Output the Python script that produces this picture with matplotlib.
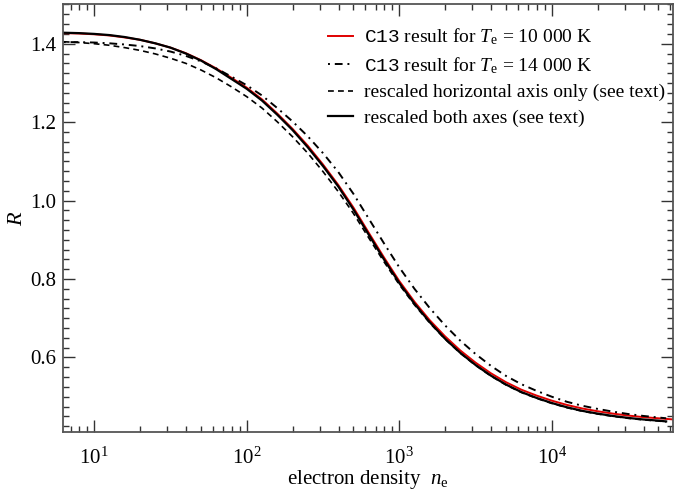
import numpy as np
import matplotlib
matplotlib.use('Agg')
import matplotlib.pyplot as plt
from matplotlib.ticker import LogLocator, MultipleLocator, NullFormatter

plt.rcParams['font.family'] = ['Liberation Serif', 'DejaVu Serif']
plt.rcParams['mathtext.fontset'] = 'custom'
plt.rcParams['mathtext.rm'] = 'Liberation Serif'
plt.rcParams['mathtext.it'] = 'Liberation Serif:italic'
plt.rcParams['mathtext.tt'] = 'Liberation Mono'

# log10 of electron density
log_ne = np.array([0.8, 0.9, 1.0, 1.1, 1.2, 1.3, 1.4, 1.5, 1.6, 1.7, 1.8, 1.9,
                   2.0, 2.1, 2.2, 2.3, 2.4, 2.5, 2.6, 2.7, 2.8, 2.9,
                   3.0, 3.1, 3.2, 3.3, 3.4, 3.5, 3.6, 3.7, 3.8, 3.9,
                   4.0, 4.1, 4.2, 4.3, 4.4, 4.5, 4.6, 4.7, 4.8])
# the other three curves stop a little short of the right edge
log_ne_b = np.array([0.8, 0.9, 1.0, 1.1, 1.2, 1.3, 1.4, 1.5, 1.6, 1.7, 1.8, 1.9,
                     2.0, 2.1, 2.2, 2.3, 2.4, 2.5, 2.6, 2.7, 2.8, 2.9,
                     3.0, 3.1, 3.2, 3.3, 3.4, 3.5, 3.6, 3.7, 3.8, 3.9,
                     4.0, 4.1, 4.2, 4.3, 4.4, 4.5, 4.6, 4.7, 4.75])

R_10k = [1.427, 1.426, 1.424, 1.421, 1.416, 1.410, 1.401, 1.390, 1.376, 1.358, 1.337, 1.313,
         1.288, 1.258, 1.222, 1.183, 1.140, 1.092, 1.040, 0.982, 0.918, 0.855,
         0.795, 0.742, 0.695, 0.654, 0.618, 0.587, 0.560, 0.537, 0.518, 0.503,
         0.490, 0.479, 0.470, 0.463, 0.457, 0.452, 0.448, 0.445, 0.442]
R_14k = [1.404, 1.404, 1.403, 1.401, 1.398, 1.394, 1.388, 1.380, 1.369, 1.355, 1.337, 1.316,
         1.294, 1.268, 1.236, 1.202, 1.164, 1.121, 1.073, 1.017, 0.954, 0.891,
         0.830, 0.775, 0.726, 0.682, 0.643, 0.609, 0.579, 0.553, 0.532, 0.515,
         0.500, 0.487, 0.477, 0.469, 0.462, 0.456, 0.451, 0.447, 0.445]
R_horiz = [1.405, 1.403, 1.400, 1.396, 1.390, 1.383, 1.374, 1.363, 1.350, 1.333, 1.313, 1.290,
           1.265, 1.236, 1.201, 1.163, 1.121, 1.074, 1.023, 0.967, 0.905, 0.844,
           0.786, 0.734, 0.688, 0.647, 0.611, 0.580, 0.553, 0.530, 0.511, 0.496,
           0.483, 0.472, 0.463, 0.456, 0.450, 0.445, 0.441, 0.438, 0.436]
R_both = [1.428, 1.427, 1.425, 1.422, 1.417, 1.410, 1.401, 1.390, 1.375, 1.357, 1.335, 1.310,
          1.285, 1.255, 1.219, 1.180, 1.136, 1.088, 1.036, 0.977, 0.913, 0.850,
          0.790, 0.737, 0.690, 0.648, 0.612, 0.581, 0.554, 0.531, 0.512, 0.497,
          0.484, 0.473, 0.464, 0.457, 0.451, 0.446, 0.442, 0.439, 0.437]

ne = 10 ** log_ne
ne_b = 10 ** log_ne_b

fig = plt.figure(figsize=(6.97, 4.93), dpi=100)
ax = fig.add_axes([0.0904, 0.1237, 0.8752, 0.8672])

ax.plot(ne, R_10k, color='#e00000', lw=1.4,
        label=r'$\mathtt{C13}$ result for $T_\mathrm{e}$ = 10 000 K')
ax.plot(ne_b, R_14k, color='k', lw=1.4, linestyle=(0, (1, 2.5, 4, 2.5)),
        label=r'$\mathtt{C13}$ result for $T_\mathrm{e}$ = 14 000 K')
ax.plot(ne_b, R_horiz, color='k', lw=1.2, linestyle=(0, (3.5, 2.5)),
        label='rescaled horizontal axis only (see text)')
ax.plot(ne_b, R_both, color='k', lw=1.6,
        label='rescaled both axes (see text)')

ax.set_xscale('log')
ax.set_xlim(6.24, 6.24e4)
ax.set_ylim(0.41, 1.50)

ax.xaxis.set_major_locator(LogLocator(base=10))
ax.xaxis.set_minor_locator(LogLocator(base=10, subs=np.arange(2, 10)))
ax.xaxis.set_minor_formatter(NullFormatter())
ax.yaxis.set_major_locator(MultipleLocator(0.2))
ax.yaxis.set_minor_locator(MultipleLocator(0.025))

for s in ax.spines.values():
    s.set_color('#555555')
    s.set_linewidth(1.3)
ax.tick_params(which='both', direction='in', top=True, right=True,
               color='#333333', labelsize=15, width=1.0)
ax.tick_params(which='major', length=8.5)
ax.tick_params(which='minor', length=4.3)
ax.tick_params(axis='x', which='major', pad=11)
ax.tick_params(axis='y', which='major', pad=5)

ax.set_xlabel(r'electron density  $n_\mathrm{e}$', fontsize=15, labelpad=0)
ax.set_ylabel(r'$R$', fontsize=16, labelpad=2)

ax.legend(loc='upper right', bbox_to_anchor=(1.0, 0.967), frameon=False,
          fontsize=14, handlelength=1.3, handletextpad=0.55, labelspacing=0.41,
          borderaxespad=0.0)

fig.savefig('out.png', dpi=100)
